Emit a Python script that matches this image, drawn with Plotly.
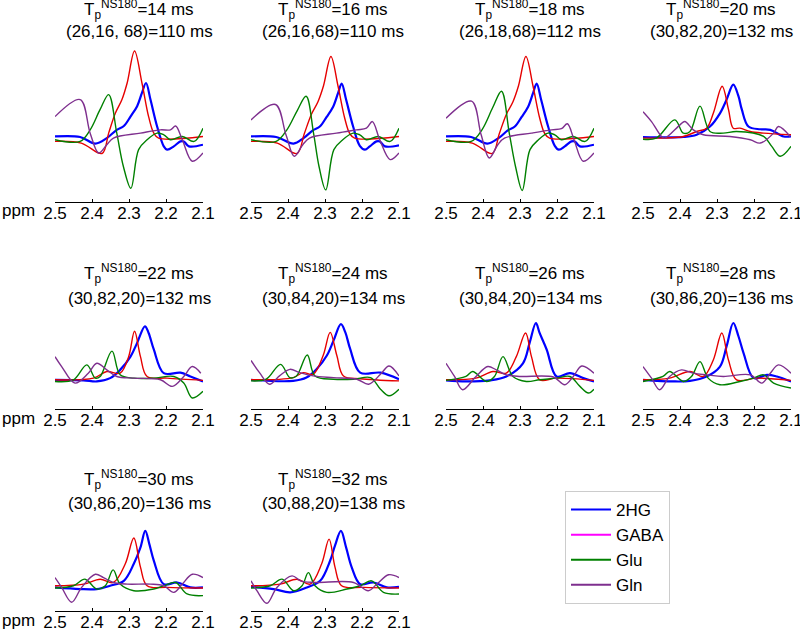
import plotly.graph_objects as go

# 每格的標題 (Tp 與 序列時間)
TP = [14, 16, 18, 20, 22, 24, 26, 28, 30, 32]
SEQ = ["(26,16, 68)=110 ms", "(26,16,68)=110 ms", "(26,18,68)=112 ms",
       "(30,82,20)=132 ms", "(30,82,20)=132 ms", "(30,84,20)=134 ms",
       "(30,84,20)=134 ms", "(30,86,20)=136 ms", "(30,86,20)=136 ms",
       "(30,88,20)=138 ms"]
PPM_TICKS = [2.5, 2.4, 2.3, 2.2, 2.1]

# 各代謝物光譜 (ppm, 振幅)，每格一組
HG2 = [
    [(2.500, 0.03), (2.432, 0.02), (2.391, -0.10), (2.360, 0.00), (2.333, 0.15), (2.314, 0.22),
     (2.296, 0.39), (2.278, 0.58), (2.265, 0.82), (2.254, 1.00), (2.242, 0.70), (2.224, 0.21),
     (2.206, -0.15), (2.197, -0.21), (2.179, -0.15), (2.161, -0.06), (2.152, -0.06), (2.138, -0.15),
     (2.100, -0.12)],
    [(2.500, 0.03), (2.432, 0.02), (2.385, -0.10), (2.358, 0.00), (2.333, 0.14), (2.314, 0.21),
     (2.296, 0.38), (2.278, 0.57), (2.265, 0.81), (2.255, 0.99), (2.243, 0.70), (2.224, 0.21),
     (2.206, -0.14), (2.192, -0.21), (2.179, -0.15), (2.161, -0.06), (2.152, -0.06), (2.138, -0.15),
     (2.100, -0.13)],
    [(2.500, 0.03), (2.432, 0.02), (2.388, -0.10), (2.358, 0.00), (2.333, 0.14), (2.314, 0.21),
     (2.296, 0.38), (2.278, 0.57), (2.265, 0.81), (2.255, 0.99), (2.243, 0.70), (2.224, 0.21),
     (2.206, -0.14), (2.195, -0.21), (2.179, -0.15), (2.161, -0.06), (2.152, -0.06), (2.138, -0.15),
     (2.100, -0.12)],
    [(2.500, 0.02), (2.391, 0.02), (2.355, 0.06), (2.319, 0.21), (2.292, 0.45), (2.274, 0.70),
     (2.256, 0.97), (2.242, 0.76), (2.233, 0.52), (2.215, 0.21), (2.183, 0.16), (2.156, 0.15),
     (2.120, 0.03), (2.100, 0.03)],
    [(2.500, 0.00), (2.423, -0.01), (2.387, -0.03), (2.351, 0.03), (2.324, 0.18), (2.296, 0.42),
     (2.278, 0.67), (2.257, 0.97), (2.247, 0.85), (2.233, 0.55), (2.206, 0.12), (2.161, 0.13),
     (2.134, 0.06), (2.100, -0.03)],
    [(2.500, 0.00), (2.386, -0.02), (2.350, 0.04), (2.323, 0.19), (2.295, 0.44), (2.277, 0.71),
     (2.257, 1.01), (2.245, 0.86), (2.232, 0.56), (2.205, 0.13), (2.150, 0.13), (2.100, 0.01)],
    [(2.500, -0.01), (2.446, -0.03), (2.382, -0.01), (2.337, 0.06), (2.292, 0.30), (2.274, 0.67),
     (2.257, 1.03), (2.247, 0.85), (2.228, 0.55), (2.201, 0.06), (2.165, 0.12), (2.129, 0.03),
     (2.100, -0.03)],
    [(2.500, 0.00), (2.419, -0.03), (2.373, -0.02), (2.328, 0.06), (2.292, 0.24), (2.274, 0.61),
     (2.256, 1.03), (2.242, 0.79), (2.228, 0.48), (2.201, 0.03), (2.165, 0.09), (2.138, 0.06),
     (2.100, -0.03)],
    [(2.500, -0.02), (2.432, -0.05), (2.387, -0.05), (2.351, 0.01), (2.314, 0.10), (2.287, 0.41),
     (2.269, 0.71), (2.256, 1.01), (2.245, 0.77), (2.233, 0.47), (2.206, 0.04), (2.170, 0.07),
     (2.134, -0.02), (2.100, -0.02)],
    [(2.500, -0.01), (2.439, -0.05), (2.394, -0.11), (2.349, -0.02), (2.313, 0.10), (2.286, 0.47),
     (2.273, 0.74), (2.257, 1.01), (2.243, 0.71), (2.228, 0.35), (2.205, 0.04), (2.169, 0.07),
     (2.133, -0.02), (2.100, -0.01)],
]

GABA = [
    [(2.500, -0.06), (2.429, -0.09), (2.373, -0.28), (2.355, 0.09), (2.337, 0.45), (2.319, 0.70),
     (2.305, 1.00), (2.285, 1.58), (2.265, 1.00), (2.247, 0.39), (2.233, 0.09), (2.220, 0.00),
     (2.100, 0.03)],
    [(2.500, -0.06), (2.429, -0.09), (2.376, -0.28), (2.356, 0.08), (2.337, 0.43), (2.319, 0.66),
     (2.304, 0.95), (2.284, 1.48), (2.265, 0.95), (2.247, 0.37), (2.233, 0.08), (2.220, 0.00),
     (2.100, 0.03)],
    [(2.500, -0.06), (2.429, -0.09), (2.375, -0.28), (2.356, 0.08), (2.337, 0.43), (2.319, 0.66),
     (2.304, 0.95), (2.284, 1.48), (2.265, 0.95), (2.247, 0.37), (2.233, 0.08), (2.220, 0.00),
     (2.100, 0.03)],
    [(2.500, 0.00), (2.391, 0.03), (2.355, 0.12), (2.328, 0.18), (2.310, 0.45), (2.286, 0.94),
     (2.269, 0.52), (2.256, 0.18), (2.238, 0.18), (2.210, 0.12), (2.174, 0.09), (2.100, 0.06)],
    [(2.500, 0.00), (2.396, 0.03), (2.360, 0.15), (2.324, 0.12), (2.301, 0.42), (2.285, 0.88),
     (2.269, 0.42), (2.251, 0.06), (2.197, 0.03), (2.100, -0.01)],
    [(2.500, 0.00), (2.386, 0.04), (2.359, 0.13), (2.332, 0.10), (2.305, 0.44), (2.286, 0.86),
     (2.268, 0.44), (2.250, 0.07), (2.205, 0.02), (2.100, -0.02)],
    [(2.500, 0.00), (2.419, 0.03), (2.373, 0.15), (2.337, 0.12), (2.310, 0.42), (2.285, 0.85),
     (2.269, 0.42), (2.247, 0.00), (2.201, 0.03), (2.100, -0.01)],
    [(2.500, 0.00), (2.428, 0.03), (2.373, 0.15), (2.337, 0.06), (2.310, 0.36), (2.287, 0.85),
     (2.269, 0.36), (2.247, 0.00), (2.192, 0.03), (2.100, -0.01)],
    [(2.500, 0.01), (2.423, 0.04), (2.378, 0.13), (2.342, 0.07), (2.310, 0.41), (2.287, 0.88),
     (2.269, 0.35), (2.251, 0.01), (2.197, -0.02), (2.100, -0.03)],
    [(2.500, 0.01), (2.421, 0.04), (2.376, 0.13), (2.340, 0.04), (2.309, 0.41), (2.289, 0.86),
     (2.273, 0.35), (2.255, 0.01), (2.196, -0.02), (2.100, -0.03)],
]

GLU = [
    [(2.500, -0.03), (2.432, -0.06), (2.405, 0.15), (2.378, 0.52), (2.355, 0.79), (2.333, 0.09),
     (2.315, -0.52), (2.295, -0.91), (2.274, -0.21), (2.251, -0.03), (2.224, 0.09), (2.206, 0.06),
     (2.188, -0.03), (2.156, 0.03), (2.124, -0.06), (2.100, 0.18)],
    [(2.500, -0.03), (2.432, -0.06), (2.403, 0.15), (2.375, 0.50), (2.351, 0.76), (2.331, 0.09),
     (2.316, -0.52), (2.298, -0.94), (2.276, -0.21), (2.252, -0.03), (2.224, 0.09), (2.206, 0.06),
     (2.188, -0.03), (2.156, 0.03), (2.124, -0.06), (2.100, 0.18)],
    [(2.500, -0.03), (2.432, -0.06), (2.402, 0.16), (2.374, 0.55), (2.350, 0.85), (2.329, 0.09),
     (2.312, -0.52), (2.294, -0.95), (2.273, -0.21), (2.250, -0.03), (2.224, 0.09), (2.206, 0.06),
     (2.188, -0.03), (2.156, 0.03), (2.124, -0.06), (2.100, 0.18)],
    [(2.500, -0.02), (2.464, 0.00), (2.414, 0.33), (2.391, 0.09), (2.373, 0.12), (2.346, 0.58),
     (2.319, 0.12), (2.283, 0.09), (2.247, 0.12), (2.174, 0.03), (2.152, -0.15), (2.129, -0.33),
     (2.100, -0.15)],
    [(2.500, -0.03), (2.450, 0.00), (2.414, 0.27), (2.391, 0.03), (2.378, 0.06), (2.346, 0.52),
     (2.324, 0.09), (2.287, 0.03), (2.233, 0.03), (2.179, 0.06), (2.152, -0.06), (2.129, -0.33),
     (2.100, -0.21)],
    [(2.500, -0.02), (2.459, 0.01), (2.420, 0.28), (2.395, 0.04), (2.377, 0.07), (2.348, 0.45),
     (2.327, 0.07), (2.277, 0.01), (2.223, 0.01), (2.177, 0.04), (2.150, -0.17), (2.127, -0.29),
     (2.100, -0.17)],
    [(2.500, -0.01), (2.446, 0.06), (2.428, 0.15), (2.391, -0.03), (2.369, 0.06), (2.346, 0.42),
     (2.319, 0.06), (2.283, -0.03), (2.247, 0.00), (2.201, 0.03), (2.165, 0.06), (2.138, -0.12),
     (2.115, -0.24), (2.100, -0.17)],
    [(2.500, -0.03), (2.446, 0.06), (2.428, 0.15), (2.391, -0.03), (2.369, 0.06), (2.346, 0.33),
     (2.324, 0.03), (2.292, -0.09), (2.238, -0.03), (2.201, 0.03), (2.174, 0.09), (2.147, -0.06),
     (2.100, -0.15)],
    [(2.500, -0.03), (2.450, 0.01), (2.419, 0.13), (2.387, -0.05), (2.364, 0.01), (2.343, 0.30),
     (2.324, 0.04), (2.287, -0.08), (2.233, -0.05), (2.206, 0.01), (2.174, 0.07), (2.143, -0.14),
     (2.100, -0.17)],
    [(2.500, -0.03), (2.448, 0.01), (2.416, 0.13), (2.385, -0.08), (2.362, 0.01), (2.345, 0.25),
     (2.327, 0.01), (2.295, -0.11), (2.241, -0.05), (2.205, 0.01), (2.174, 0.10), (2.142, -0.11),
     (2.100, -0.14)],
]

GLN = [
    [(2.500, 0.39), (2.432, 0.70), (2.405, 0.09), (2.382, -0.27), (2.360, -0.12), (2.342, 0.00),
     (2.269, 0.09), (2.215, 0.15), (2.188, 0.15), (2.174, 0.22), (2.156, -0.03), (2.129, -0.42),
     (2.100, -0.27)],
    [(2.500, 0.33), (2.434, 0.61), (2.405, 0.05), (2.383, -0.33), (2.360, -0.12), (2.342, 0.00),
     (2.269, 0.09), (2.215, 0.15), (2.188, 0.18), (2.172, 0.30), (2.152, -0.03), (2.124, -0.39),
     (2.100, -0.27)],
    [(2.500, 0.36), (2.431, 0.67), (2.405, 0.06), (2.383, -0.36), (2.360, -0.12), (2.342, 0.00),
     (2.269, 0.09), (2.215, 0.15), (2.188, 0.17), (2.172, 0.26), (2.154, -0.03), (2.129, -0.42),
     (2.100, -0.27)],
    [(2.500, 0.48), (2.477, 0.30), (2.450, 0.03), (2.441, 0.00), (2.400, 0.24), (2.387, 0.30),
     (2.364, 0.15), (2.337, 0.06), (2.265, 0.03), (2.210, -0.03), (2.183, -0.09), (2.147, 0.09),
     (2.134, 0.21), (2.102, 0.03)],
    [(2.500, 0.42), (2.482, 0.24), (2.446, -0.06), (2.410, 0.12), (2.387, 0.30), (2.360, 0.18),
     (2.333, 0.06), (2.287, 0.03), (2.215, 0.00), (2.183, -0.12), (2.152, 0.06), (2.129, 0.24),
     (2.106, 0.12)],
    [(2.500, 0.35), (2.477, 0.13), (2.450, -0.08), (2.423, 0.07), (2.395, 0.19), (2.368, 0.13),
     (2.332, 0.07), (2.277, 0.04), (2.214, 0.01), (2.182, -0.08), (2.150, 0.10), (2.127, 0.25),
     (2.100, 0.07)],
    [(2.500, 0.30), (2.477, 0.06), (2.455, -0.18), (2.419, 0.06), (2.387, 0.24), (2.364, 0.18),
     (2.337, 0.09), (2.301, 0.06), (2.210, 0.05), (2.179, -0.09), (2.156, 0.06), (2.133, 0.25),
     (2.100, 0.12)],
    [(2.500, 0.24), (2.477, 0.03), (2.455, -0.18), (2.428, 0.06), (2.396, 0.18), (2.364, 0.12),
     (2.328, 0.09), (2.283, 0.06), (2.210, 0.09), (2.179, -0.06), (2.156, 0.12), (2.134, 0.27),
     (2.100, 0.12)],
    [(2.500, 0.16), (2.482, -0.02), (2.455, -0.29), (2.428, -0.02), (2.391, 0.22), (2.369, 0.16),
     (2.342, 0.07), (2.305, 0.04), (2.242, 0.04), (2.206, 0.01), (2.179, -0.11), (2.156, 0.04),
     (2.129, 0.22), (2.100, 0.16)],
    [(2.500, 0.10), (2.484, -0.08), (2.457, -0.31), (2.430, -0.02), (2.389, 0.19), (2.366, 0.10),
     (2.330, 0.07), (2.223, 0.07), (2.183, -0.08), (2.160, 0.04), (2.128, 0.21), (2.100, 0.16)],
]

# 版面 (像素)
W, H = 800, 630
COLS_PX = [(55, 203), (251, 399), (446, 594), (643, 791)]
ROWS_PX = [(45, 202), (312, 409), (515, 611)]
Y_RANGES = [(-1.16, 1.69), (-0.53, 1.23), (-0.45, 1.30)]
TITLE_CX = [139, 333, 530, 721]
TITLE_Y = [(10, 31), (273, 298), (479, 503)]
FONT = "Liberation Sans, Arial, sans-serif"

# 名稱, 資料, 線色, 線寬, 圖例色
SERIES = [
    ("2HG", HG2, "#0000ff", 2.2, "#0000ff"),
    ("GABA", GABA, "#e60000", 1.4, "#ff00ff"),
    ("Glu", GLU, "#008000", 1.4, "#008000"),
    ("Gln", GLN, "#7e2f8e", 1.4, "#7e2f8e"),
]

fig = go.Figure()
annotations = []

for i in range(10):
    r, c = divmod(i, 4)
    ax = "" if i == 0 else str(i + 1)
    for name, data, color, width, _ in SERIES:
        pts = data[i]
        fig.add_trace(go.Scatter(
            x=[p[0] for p in pts], y=[p[1] for p in pts],
            mode="lines", line=dict(color=color, width=width, shape="spline", smoothing=1.0),
            xaxis="x" + ax, yaxis="y" + ax, showlegend=False, hoverinfo="skip",
        ))

    x0, x1 = COLS_PX[c]
    y0, y1 = ROWS_PX[r]
    fig.layout["xaxis" + ax] = dict(
        domain=[x0 / W, x1 / W], range=[2.5, 2.1], anchor="y" + ax,
        tickvals=PPM_TICKS, ticktext=["2.5", "2.4", "2.3", "2.2", "2.1"],
        ticks="inside", ticklen=3, tickcolor="black", ticklabelstandoff=-4,
        ticklabeloverflow="allow",
        showline=True, linecolor="black", linewidth=1,
        showgrid=False, zeroline=False, automargin=False,
        tickfont=dict(family=FONT, size=17, color="black"),
    )
    fig.layout["yaxis" + ax] = dict(
        domain=[1 - y1 / H, 1 - y0 / H], range=list(Y_RANGES[r]),
        anchor="x" + ax, visible=False, automargin=False,
    )

    # 兩行標題
    ty1, ty2 = TITLE_Y[r]
    annotations.append(dict(
        x=TITLE_CX[c] / W, y=1 - ty1 / H, xref="paper", yref="paper",
        text=f"T<sub>p</sub><sup>NS180</sup>={TP[i]} ms", showarrow=False,
        xanchor="center", yanchor="middle", font=dict(family=FONT, size=17, color="black"),
    ))
    annotations.append(dict(
        x=TITLE_CX[c] / W, y=1 - ty2 / H, xref="paper", yref="paper",
        text=SEQ[i], showarrow=False,
        xanchor="center", yanchor="middle", font=dict(family=FONT, size=17, color="black"),
    ))
    if c == 0:
        annotations.append(dict(
            x=0, y=1 - (y1 + 9) / H, xref="paper", yref="paper", text="ppm",
            showarrow=False, xanchor="left", yanchor="middle",
            font=dict(family=FONT, size=17, color="black"),
        ))

# 圖例 (只有圖例，沒有資料)
for name, _, _, _, lcolor in SERIES:
    fig.add_trace(go.Scatter(
        x=[None], y=[None], mode="lines", name=name,
        line=dict(color=lcolor, width=2), xaxis="x", yaxis="y",
    ))

fig.update_layout(
    width=W, height=H,
    margin=dict(l=0, r=0, t=0, b=0),
    paper_bgcolor="white", plot_bgcolor="white",
    annotations=annotations,
    showlegend=True,
    legend=dict(
        x=565 / W, y=1 - 491 / H, xanchor="left", yanchor="top",
        bordercolor="#cccccc", borderwidth=1, bgcolor="white",
        font=dict(family=FONT, size=17, color="black"),
        itemwidth=40, tracegroupgap=0,
    ),
)

# 頁面的 body 預設有 8px 邊距，去掉讓圖貼齊視窗
fig.write_html("out.html", config={"displayModeBar": False},
               post_script="document.body.style.margin='0';document.body.style.overflow='hidden';")
